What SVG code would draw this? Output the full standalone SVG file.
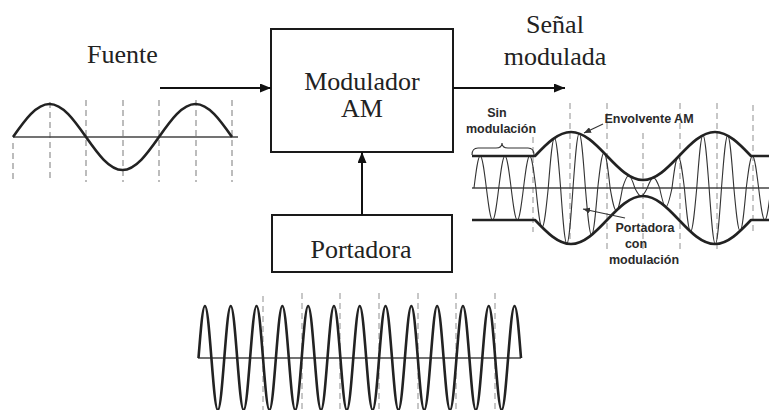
<svg xmlns="http://www.w3.org/2000/svg" width="769" height="410" viewBox="0 0 769 410">
  <style>
    .box{fill:#fff;stroke:#1a1a1a;stroke-width:2}
    .lbl{font-family:"Liberation Serif","Times New Roman",serif;font-size:26px;fill:#222;text-anchor:middle}
    .small{font-family:"Liberation Sans",Arial,sans-serif;font-size:12.5px;font-weight:bold;fill:#2a2a2a;text-anchor:middle}
    .conn{stroke:#111;stroke-width:2;fill:none}
    .wave{fill:none;stroke:#222;stroke-width:2.6;stroke-linejoin:round}
    .thin{fill:none;stroke:#333;stroke-width:1.1}
    .axis{fill:none;stroke:#444;stroke-width:1.6}
    .dash{fill:none;stroke:#999;stroke-width:1.3;stroke-dasharray:6 4}
    .ann{stroke:#333;stroke-width:1.1;fill:none}
  </style>
  <defs>
    <marker id="arr" markerUnits="userSpaceOnUse" markerWidth="12" markerHeight="10" refX="11" refY="4.5" orient="auto">
      <path d="M0,0 L11,4.5 L0,9 z" fill="#111"/>
    </marker>
    <marker id="arrs" markerUnits="userSpaceOnUse" markerWidth="8" markerHeight="6" refX="7" refY="3" orient="auto">
      <path d="M0,0 L7,3 L0,6 z" fill="#333"/>
    </marker>
  </defs>

  <g id="fuente">
    <text class="lbl" x="122.5" y="63">Fuente</text>
    <g class="dash">
      <path d="M13,143 V182 M50,102 V182 M86,100 V182 M123,100 V182 M159,100 V182 M196,100 V182 M232,100 V182"/>
    </g>
    <path class="axis" d="M13,137 H238"/>
    <path class="wave" d="M13,137 C24.9,120.1 36.3,104 49.5,104 C62.7,104 74.1,120.1 86,137 C97.9,153.9 109.3,170 122.5,170 C135.7,170 147.1,153.9 159,137 C170.9,120.1 182.3,104 195.5,104 C208.7,104 220.1,120.1 232,137"/>
  </g>

  <g id="modulador">
    <rect class="box" x="271" y="29" width="182" height="123"/>
    <text class="lbl" x="362" y="90">Modulador</text>
    <text class="lbl" x="362" y="117">AM</text>
  </g>

  <g id="portadora">
    <rect class="box" x="272" y="215" width="180" height="57"/>
    <text class="lbl" x="361" y="258">Portadora</text>
    <path class="dash" style="stroke:#aaa" d="M263,296 V410 M302,293 V410 M340,293 V410 M379,293 V410 M418,293 V410 M456,293 V410 M495,293 V410"/>
    <path class="axis" d="M198,358 H521"/>
    <path class="wave" d="M198.5,358
      c2.1,-26.6 4.12,-52 6.45,-52 c2.33,0 4.35,25.4 6.45,52 c2.1,26.6 4.12,52 6.45,52 c2.33,0 4.35,-25.4 6.45,-52
      c2.1,-26.6 4.12,-52 6.45,-52 c2.33,0 4.35,25.4 6.45,52 c2.1,26.6 4.12,52 6.45,52 c2.33,0 4.35,-25.4 6.45,-52
      c2.1,-26.6 4.12,-52 6.45,-52 c2.33,0 4.35,25.4 6.45,52 c2.1,26.6 4.12,52 6.45,52 c2.33,0 4.35,-25.4 6.45,-52
      c2.1,-26.6 4.12,-52 6.45,-52 c2.33,0 4.35,25.4 6.45,52 c2.1,26.6 4.12,52 6.45,52 c2.33,0 4.35,-25.4 6.45,-52
      c2.1,-26.6 4.12,-52 6.45,-52 c2.33,0 4.35,25.4 6.45,52 c2.1,26.6 4.12,52 6.45,52 c2.33,0 4.35,-25.4 6.45,-52
      c2.1,-26.6 4.12,-52 6.45,-52 c2.33,0 4.35,25.4 6.45,52 c2.1,26.6 4.12,52 6.45,52 c2.33,0 4.35,-25.4 6.45,-52
      c2.1,-26.6 4.12,-52 6.45,-52 c2.33,0 4.35,25.4 6.45,52 c2.1,26.6 4.12,52 6.45,52 c2.33,0 4.35,-25.4 6.45,-52
      c2.1,-26.6 4.12,-52 6.45,-52 c2.33,0 4.35,25.4 6.45,52 c2.1,26.6 4.12,52 6.45,52 c2.33,0 4.35,-25.4 6.45,-52
      c2.1,-26.6 4.12,-52 6.45,-52 c2.33,0 4.35,25.4 6.45,52 c2.1,26.6 4.12,52 6.45,52 c2.33,0 4.35,-25.4 6.45,-52
      c2.1,-26.6 4.12,-52 6.45,-52 c2.33,0 4.35,25.4 6.45,52 c2.1,26.6 4.12,52 6.45,52 c2.33,0 4.35,-25.4 6.45,-52
      c2.1,-26.6 4.12,-52 6.45,-52 c2.33,0 4.35,25.4 6.45,52 c2.1,26.6 4.12,52 6.45,52 c2.33,0 4.35,-25.4 6.45,-52
      c2.1,-26.6 4.12,-52 6.45,-52 c2.33,0 4.35,25.4 6.45,52 c2.1,26.6 4.12,52 6.45,52 c2.33,0 4.35,-25.4 6.45,-52
      c2.1,-26.6 4.12,-52 6.45,-52 c2.33,0 4.35,25.4 6.45,52"/>
  </g>

  <g id="senal">
    <text class="lbl" x="555" y="33">Señal</text>
    <text class="lbl" x="555" y="65">modulada</text>
    <path class="dash" style="stroke:#aaa" d="M533,137 V232 M570,103 V240 M607,103 V250 M643,133 V250 M680,103 V250 M717,103 V250 M753,105 V232"/>
    <path class="axis" d="M472,188 H769"/>
    <path class="thin" d="M474,188
      c2.02,-16.4 3.95,-32 6.1875,-32 c2.24,0 4.17,15.6 6.1875,32
      c2.02,16.4 3.95,32 6.1875,32 c2.24,0 4.17,-15.6 6.1875,-32
      c2.02,-16.4 3.95,-32 6.1875,-32 c2.24,0 4.17,15.6 6.1875,32
      c2.02,16.4 3.95,32 6.1875,32 c2.24,0 4.17,-15.6 6.1875,-32
      c2.02,-16.4 3.95,-32 6.1875,-32 c2.24,0 4.17,15.6 6.1875,32
      c2.02,20.1 3.95,39.3 6.1875,39.3 c2.24,0 4.17,-19.2 6.1875,-39.3
      c2.02,-25.6 3.95,-50 6.1875,-50 c2.24,0 4.17,24.4 6.1875,50
      c2.02,28.5 3.95,55.6 6.1875,55.6 c2.24,0 4.17,-27.1 6.1875,-55.6
      c2.02,-27.9 3.95,-54.5 6.1875,-54.5 c2.24,0 4.17,26.6 6.1875,54.5
      c2.02,24.1 3.95,47 6.1875,47 c2.24,0 4.17,-22.9 6.1875,-47
      c2.02,-18 3.95,-35.2 6.1875,-35.2 c2.24,0 4.17,17.2 6.1875,35.2
      c2.02,11.5 3.95,22.5 6.1875,22.5 c2.24,0 4.17,-11 6.1875,-22.5
      c2.02,-6.4 3.95,-12.5 6.1875,-12.5 c2.24,0 4.17,6.1 6.1875,12.5
      c2.02,4.1 3.95,8.1 6.1875,8.1 c2.24,0 4.17,-4 6.1875,-8.1
      c2.02,-5.3 3.95,-10.4 6.1875,-10.4 c2.24,0 4.17,5.1 6.1875,10.4
      c2.02,9.7 3.95,18.9 6.1875,18.9 c2.24,0 4.17,-9.2 6.1875,-18.9
      c2.02,-16 3.95,-31.2 6.1875,-31.2 c2.24,0 4.17,15.2 6.1875,31.2
      c2.02,22.3 3.95,43.6 6.1875,43.6 c2.24,0 4.17,-21.3 6.1875,-43.6
      c2.02,-27 3.95,-52.8 6.1875,-52.8 c2.24,0 4.17,25.8 6.1875,52.8
      c2.02,28.7 3.95,56 6.1875,56 c2.24,0 4.17,-27.3 6.1875,-56
      c2.02,-26.8 3.95,-52.4 6.1875,-52.4 c2.24,0 4.17,25.6 6.1875,52.4
      c2.02,22 3.95,43 6.1875,43 c2.24,0 4.17,-21 6.1875,-43
      c2.02,-16.4 3.95,-32 6.1875,-32 c2.24,0 4.17,15.6 6.1875,32
      c2.02,16.4 3.95,32 6.1875,32 c2.24,0 4.17,-15.6 6.1875,-32"/>
    <path class="wave" d="M472,156 H535 c11.7,-12.3 23,-24 36,-24 c13,0 24.3,11.7 36,24 c11.7,12.3 23,24 36,24 c13,0 24.3,-11.7 36,-24 c11.7,-12.3 23,-24 36,-24 c13,0 24.3,11.7 36,24 H769"/>
    <path class="wave" d="M472,220 H535 c11.7,12.3 23,24 36,24 c13,0 24.3,-11.7 36,-24 c11.7,-12.3 23,-24 36,-24 c13,0 24.3,11.7 36,24 c11.7,12.3 23,24 36,24 c13,0 24.3,-11.7 36,-24 H769"/>
    <path class="ann" d="M472,155 Q472,148 478,148 H496 Q502,148 502,143 Q502,148 508,148 H528 Q534,148 534,155"/>
    <text class="small" x="497" y="117">Sin</text>
    <text class="small" x="501" y="133">modulación</text>
    <text class="small" x="649" y="123">Envolvente AM</text>
    <path class="ann" marker-end="url(#arrs)" d="M603,124 L584,133"/>
    <text class="small" x="645" y="232">Portadora</text>
    <text class="small" x="636" y="248">con</text>
    <text class="small" x="644" y="264">modulación</text>
    <path class="ann" marker-end="url(#arrs)" d="M625,218 L583,209"/>
  </g>

  <g id="connectors">
    <path class="conn" marker-end="url(#arr)" d="M160,88 H271"/>
    <path class="conn" marker-end="url(#arr)" d="M453,88 H565"/>
    <path class="conn" marker-end="url(#arr)" d="M362,215 V152"/>
  </g>
</svg>
